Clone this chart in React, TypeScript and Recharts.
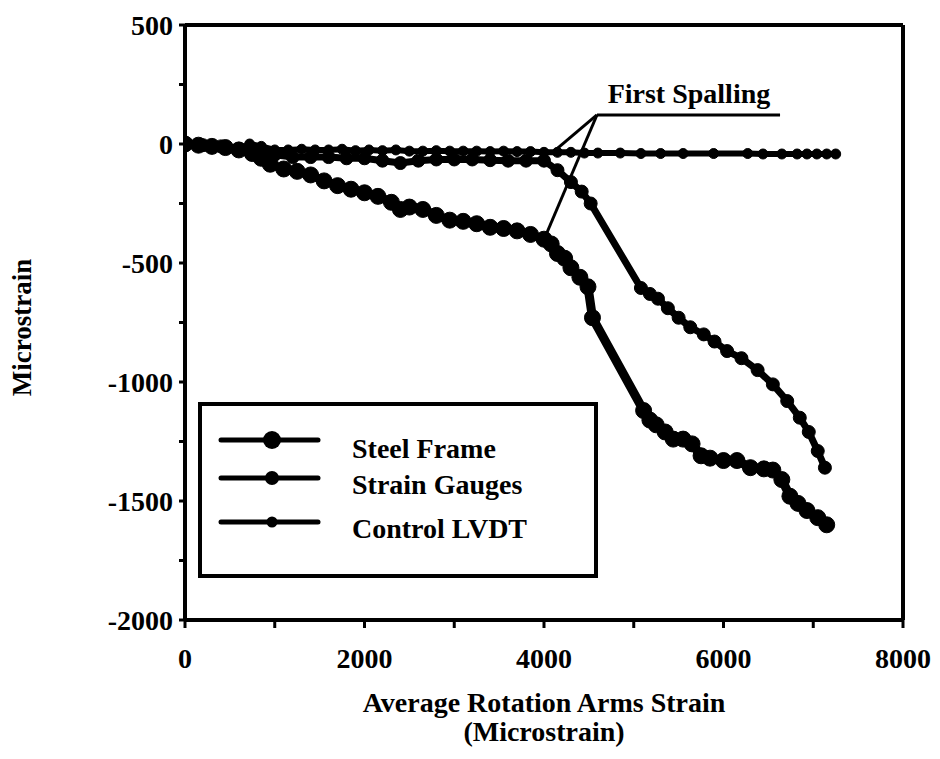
import React from 'react';
import { LineChart, Line, XAxis, YAxis, ReferenceLine, ReferenceDot } from 'recharts';

const steelFrameX = [0, 150, 300, 450, 600, 750, 850, 950, 1100, 1250, 1400, 1550, 1700, 1850, 2000, 2150, 2300, 2400, 2500, 2650, 2800, 2950, 3100, 3250, 3400, 3550, 3700, 3850, 4000, 4080, 4150, 4230, 4300, 4400, 4490, 4540, 5110, 5180, 5250, 5350, 5440, 5550, 5650, 5750, 5850, 6000, 6150, 6300, 6450, 6550, 6650, 6740, 6830, 6930, 7050, 7150];
const steelFrameY = [0, -5, -10, -15, -25, -40, -60, -85, -105, -115, -130, -155, -175, -190, -205, -220, -245, -275, -265, -275, -300, -320, -325, -335, -350, -355, -365, -380, -400, -420, -460, -480, -520, -560, -600, -730, -1120, -1160, -1180, -1210, -1240, -1240, -1260, -1310, -1320, -1330, -1330, -1360, -1365, -1370, -1410, -1480, -1510, -1540, -1570, -1600];

const strainGaugesX = [0, 200, 400, 600, 800, 1000, 1200, 1400, 1600, 1800, 2000, 2200, 2400, 2600, 2800, 3000, 3200, 3400, 3600, 3800, 4000, 4150, 4300, 4420, 4520, 5080, 5180, 5270, 5380, 5500, 5630, 5780, 5900, 6040, 6200, 6380, 6550, 6710, 6850, 6950, 7050, 7130];
const strainGaugesY = [0, -5, -10, -20, -30, -45, -55, -55, -55, -60, -60, -70, -80, -70, -65, -65, -65, -68, -70, -70, -70, -110, -160, -200, -250, -605, -630, -650, -690, -730, -770, -800, -830, -870, -900, -950, -1010, -1080, -1150, -1210, -1290, -1360];

const controlLvdtX = [0, 150, 300, 450, 600, 720, 850, 1000, 1150, 1300, 1450, 1600, 1750, 1900, 2050, 2200, 2350, 2500, 2650, 2800, 2950, 3100, 3250, 3400, 3550, 3700, 3850, 4000, 4150, 4300, 4450, 4600, 4850, 5080, 5300, 5550, 5890, 6270, 6440, 6650, 6820, 6930, 7040, 7150, 7250];
const controlLvdtY = [0, -5, -10, -20, -25, 0, -10, -25, -25, -22, -25, -25, -22, -28, -25, -28, -25, -30, -30, -28, -30, -30, -30, -32, -30, -32, -32, -35, -35, -35, -38, -38, -38, -40, -40, -40, -40, -40, -42, -42, -42, -42, -42, -42, -42];

const xTicks = [0, 1000, 2000, 3000, 4000, 5000, 6000, 7000, 8000];
const yTicks = [-2000, -1750, -1500, -1250, -1000, -750, -500, -250, 0, 250, 500];

const seriesNames = ['Steel Frame', 'Strain Gauges', 'Control LVDT'];
const annotationText = 'First Spalling';
const xTitle1 = 'Average Rotation Arms Strain';
const xTitle2 = '(Microstrain)';
const yTitle = 'Microstrain';

const zip = (xs: number[], ys: number[]) => xs.map((x, i) => ({ x, y: ys[i] }));
const steelData = zip(steelFrameX, steelFrameY);
const gaugeData = zip(strainGaugesX, strainGaugesY);
const lvdtData = zip(controlLvdtX, controlLvdtY);

const FONT = '"Liberation Serif", "Times New Roman", serif';

const XTitle = (props: any) => {
  const vb = props.viewBox || {};
  const cx = vb.x + vb.width / 2;
  return (
    <text x={cx} textAnchor="middle" fontFamily={FONT} fontWeight="bold" fontSize={28} fill="#000">
      <tspan x={cx} y={712}>{xTitle1}</tspan>
      <tspan x={cx} y={741}>{xTitle2}</tspan>
    </text>
  );
};

const YTitle = (props: any) => {
  const vb = props.viewBox || {};
  const cy = vb.y + vb.height / 2 + 5;
  return (
    <text x={31} y={cy} transform={`rotate(-90 31 ${cy})`} textAnchor="middle" fontFamily={FONT} fontWeight="bold" fontSize={27} fill="#000">
      {yTitle}
    </text>
  );
};

const SpallLabel = (props: any) => {
  const vb = props.viewBox || {};
  return (
    <text x={vb.x} y={vb.y} textAnchor="middle" fontFamily={FONT} fontWeight="bold" fontSize={28} fill="#000">
      {annotationText}
    </text>
  );
};

const legendRows = [
  { name: seriesNames[0], ly: 440, ty: 458, r: 9 },
  { name: seriesNames[1], ly: 478, ty: 494, r: 7 },
  { name: seriesNames[2], ly: 522, ty: 538, r: 5.5 },
];

export default function App() {
  return (
    <div style={{ position: 'absolute', left: 0, top: 0, width: 940, height: 759, background: '#fff' }}>
      <LineChart width={940} height={759} margin={{ top: 25, right: 37, bottom: 0, left: 0 }}>
        <XAxis
          type="number"
          dataKey="x"
          domain={[0, 8000]}
          ticks={xTicks}
          allowDataOverflow
          height={139}
          tickSize={8}
          tickMargin={20}
          tickFormatter={(v: number) => (v % 2000 === 0 ? String(v) : '')}
          tick={{ fontFamily: FONT, fontWeight: 'bold', fontSize: 28, fill: '#000' }}
          axisLine={{ stroke: '#000', strokeWidth: 4 }}
          tickLine={{ stroke: '#000', strokeWidth: 3 }}
          label={<XTitle />}
        />
        <YAxis
          type="number"
          dataKey="y"
          domain={[-2000, 500]}
          ticks={yTicks}
          allowDataOverflow
          width={185}
          tickSize={6}
          tickMargin={6}
          tickFormatter={(v: number) => (v % 500 === 0 ? String(v) : '')}
          tick={{ fontFamily: FONT, fontWeight: 'bold', fontSize: 28, fill: '#000' }}
          axisLine={{ stroke: '#000', strokeWidth: 4 }}
          tickLine={{ stroke: '#000', strokeWidth: 3 }}
          label={<YTitle />}
        />
        <ReferenceLine y={500} stroke="#000" strokeWidth={4} ifOverflow="visible" />
        <ReferenceLine x={8000} stroke="#000" strokeWidth={4} ifOverflow="visible" />

        <Line data={lvdtData} dataKey="y" name={seriesNames[2]} type="linear" stroke="#000" strokeWidth={6}
          dot={{ r: 5, fill: '#000', stroke: '#000', strokeWidth: 1 }} activeDot={false} isAnimationActive={false} />
        <Line data={gaugeData} dataKey="y" name={seriesNames[1]} type="linear" stroke="#000" strokeWidth={7}
          dot={{ r: 6.5, fill: '#000', stroke: '#000', strokeWidth: 1 }} activeDot={false} isAnimationActive={false} />
        <Line data={steelData} dataKey="y" name={seriesNames[0]} type="linear" stroke="#000" strokeWidth={9}
          dot={{ r: 8, fill: '#000', stroke: '#000', strokeWidth: 1 }} activeDot={false} isAnimationActive={false} />

        <ReferenceLine segment={[{ x: 4590, y: 122 }, { x: 4100, y: -34 }]} stroke="#000" strokeWidth={3} ifOverflow="visible" />
        <ReferenceLine segment={[{ x: 4590, y: 122 }, { x: 4030, y: -375 }]} stroke="#000" strokeWidth={3} ifOverflow="visible" />
        <ReferenceLine segment={[{ x: 4590, y: 122 }, { x: 6630, y: 122 }]} stroke="#000" strokeWidth={3} ifOverflow="visible" />
        <ReferenceDot x={5615} y={172} r={0} fill="none" stroke="none" ifOverflow="visible" label={<SpallLabel />} />
      </LineChart>

      <svg width={940} height={759} style={{ position: 'absolute', left: 0, top: 0, pointerEvents: 'none' }}>
        <rect x={200} y={404} width={396} height={172} fill="#fff" stroke="#000" strokeWidth={4} />
        {legendRows.map((row) => (
          <g key={row.name}>
            <line x1={221} x2={318} y1={row.ly} y2={row.ly} stroke="#000" strokeWidth={5} strokeLinecap="round" />
            <circle cx={272} cy={row.ly} r={row.r} fill="#000" />
            <text x={352} y={row.ty} fontFamily={FONT} fontWeight="bold" fontSize={28} fill="#000">{row.name}</text>
          </g>
        ))}
      </svg>
    </div>
  );
}
